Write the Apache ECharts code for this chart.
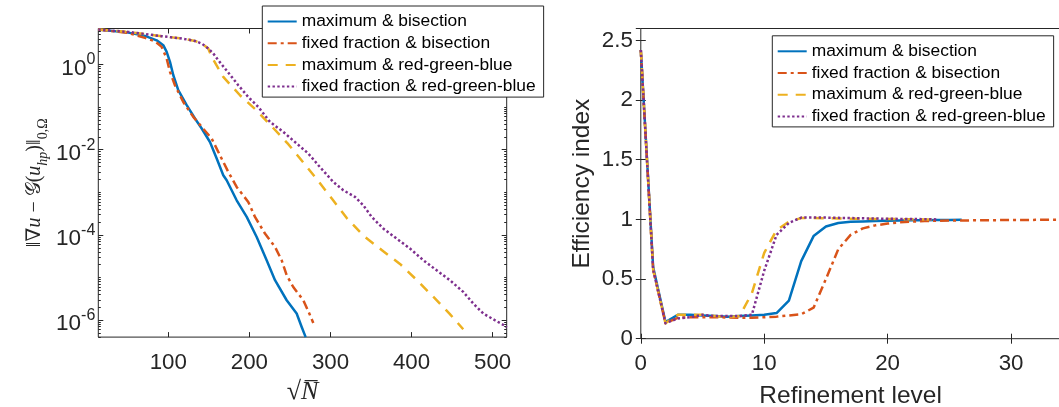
<!DOCTYPE html>
<html>
<head>
<meta charset="utf-8">
<script src="https://cdn.jsdelivr.net/npm/echarts@6/dist/echarts.min.js"></script>
<style>
html,body{margin:0;padding:0;background:#ffffff;}
#chart{width:1059px;height:407px;}
</style>
</head>
<body>
<div id="chart"></div>
<script>
// ---------- names & colours ----------
const seriesNames = [
  'maximum & bisection',
  'fixed fraction & bisection',
  'maximum & red-green-blue',
  'fixed fraction & red-green-blue'
];
const seriesColors = ['#0072BD', '#D95319', '#EDB120', '#7E2F8E'];

// ---------- left panel: error vs sqrt(N) ----------
const maxBisX = [13.7, 50.7, 71.3, 85.7, 93.8, 98.0, 102.1, 106.2, 112.3, 122.7, 132.9, 141.2, 151.4, 159.7, 167.8, 172.0, 184.3, 196.7, 209.0, 221.3, 231.6, 246.0, 258.3, 264.5, 269.4];
const maxBisY = [6.6, 5.6, 4.7, 3.7, 2.84, 1.98, 1.15, 0.56, 0.249, 0.111, 0.054, 0.0315, 0.0152, 0.0062, 0.00252, 0.00192, 6.5e-4, 2.65e-4, 8.97e-5, 2.55e-5, 8.65e-6, 2.93e-6, 1.43e-6, 6.9e-7, 4.0e-7];

const fixBisX = [13.7, 50.7, 71.3, 83.6, 91.9, 98.0, 102.1, 108.2, 118.5, 130.8, 141.2, 153.5, 163.7, 174.0, 184.3, 198.6, 206.9, 219.2, 231.6, 239.8, 246.0, 254.1, 266.5, 273.9, 278.8];
const fixBisY = [6.6, 5.5, 4.21, 3.52, 2.59, 1.38, 0.67, 0.327, 0.132, 0.0589, 0.0343, 0.0183, 0.00743, 0.00301, 0.00134, 5.96e-4, 2.65e-4, 1.08e-4, 5.23e-5, 2.55e-5, 1.13e-5, 6.0e-6, 2.93e-6, 1.43e-6, 8.6e-7];

const maxRgbX = [13.7, 50.7, 91.9, 116.5, 132.9, 141.2, 149.3, 153.5, 167.8, 188.4, 209.0, 230.0, 248.0, 266.5, 285.5, 303.5, 320.3, 340.9, 363.5, 385.7, 406.7, 427.3, 447.0, 463.7];
const maxRgbY = [6.6, 5.82, 4.62, 4.08, 3.58, 3.11, 2.37, 1.51, 0.511, 0.19, 0.0832, 0.0315, 0.01346, 0.00501, 0.00179, 6.42e-4, 2.46e-4, 9.5e-5, 4.37e-5, 2.09e-5, 8.65e-6, 3.45e-6, 1.40e-6, 6.1e-7];

const fixRgbX = [13.7, 50.7, 91.9, 116.5, 132.9, 141.5, 149.3, 155.5, 161.7, 169.9, 178.2, 186.3, 198.6, 211.0, 225.4, 241.8, 258.3, 272.6, 285.0, 303.5, 315.8, 330.2, 340.4, 350.8, 365.1, 381.6, 398.0, 414.4, 430.9, 447.3, 463.7, 476.1, 488.4, 502.8, 513.9, 517.3];
const fixRgbY = [6.6, 5.82, 4.62, 4.08, 3.58, 3.08, 2.37, 1.81, 1.26, 0.805, 0.512, 0.327, 0.173, 0.101, 0.045, 0.0262, 0.0140, 0.00815, 0.00433, 0.00175, 0.00112, 7.8e-4, 4.98e-4, 2.65e-4, 1.41e-4, 8.2e-5, 4.8e-5, 2.55e-5, 1.48e-5, 8.65e-6, 4.6e-6, 2.45e-6, 1.43e-6, 9.95e-7, 7.6e-7, 6.8e-7];

const leftXTicks = [100, 200, 300, 400, 500];
const leftYTicks = [1e-6, 1e-4, 1e-2, 1];
const leftYMinorTicks = [];
for (let k = -7; k <= 0; k++) {
  for (let m = 1; m <= 9; m++) {
    if (m === 1 && k % 2 === 0) continue;
    leftYMinorTicks.push(m * Math.pow(10, k));
  }
}

// ---------- right panel: efficiency index vs refinement level ----------
const effMaxBis = [2.42, 0.60, 0.14, 0.20, 0.20, 0.195, 0.19, 0.185, 0.19, 0.195, 0.20, 0.215, 0.32, 0.65, 0.86, 0.94, 0.97, 0.98, 0.983, 0.986, 0.988, 0.99, 0.992, 0.993, 0.994, 0.995, 0.996];
const effFixBis = [2.42, 0.58, 0.13, 0.175, 0.18, 0.18, 0.18, 0.178, 0.176, 0.176, 0.18, 0.185, 0.195, 0.205, 0.26, 0.50, 0.75, 0.87, 0.925, 0.95, 0.965, 0.975, 0.982, 0.986, 0.989, 0.99, 0.991, 0.992, 0.993, 0.994, 0.995, 0.995, 0.996, 0.996, 0.997];
const effMaxRgb = [2.42, 0.58, 0.13, 0.20, 0.20, 0.20, 0.19, 0.18, 0.19, 0.38, 0.72, 0.91, 0.98, 1.012, 1.012, 1.01, 1.008, 1.006, 1.005, 1.004, 1.003, 1.002, 1.001, 1.0, 1.0];
const effFixRgb = [2.42, 0.58, 0.13, 0.17, 0.18, 0.20, 0.19, 0.19, 0.19, 0.20, 0.57, 0.87, 0.97, 1.015, 1.016, 1.015, 1.013, 1.011, 1.009, 1.007, 1.005, 1.004, 1.003, 1.002, 1.0];

// ---------- styling ----------
const axisColor = '#262626';
const sansFont = '"Liberation Sans", Arial, sans-serif';
const mathFont = '"Liberation Serif", "DejaVu Serif", serif';
const lineTypes = ['solid', [9, 4, 3, 4], [10, 8], [2.4, 2.4]];
const lineWidth = 2.5;

function zip(xs, ys) { return xs.map((x, i) => [x, ys[i]]); }
function byLevel(ys) { return ys.map((y, i) => [i, y]); }

const leftData = [zip(maxBisX, maxBisY), zip(fixBisX, fixBisY), zip(maxRgbX, maxRgbY), zip(fixRgbX, fixRgbY)];
const rightData = [byLevel(effMaxBis), byLevel(effFixBis), byLevel(effMaxRgb), byLevel(effFixRgb)];

function lineSeries(i, data, xi, yi, z) {
  return {
    name: seriesNames[i], type: 'line', data: data,
    xAxisIndex: xi, yAxisIndex: yi,
    symbol: 'none', smooth: false, z: z,
    lineStyle: { color: seriesColors[i], width: lineWidth, type: lineTypes[i], cap: 'butt', join: 'round' },
    itemStyle: { color: seriesColors[i] },
    emphasis: { disabled: true }, animation: false
  };
}

const series = [];
for (let i = 0; i < 4; i++) series.push(lineSeries(i, leftData[i], 0, 0, 2 + i));
for (let i = 0; i < 4; i++) series.push(lineSeries(i, rightData[i], 2, 4, 2 + i));

const tickBase = { show: true, inside: true, length: 5, lineStyle: { color: axisColor, width: 1 } };
const noLine = { show: false };

function legendAt(left, top) {
  return {
    orient: 'vertical', left: left, top: top,
    data: seriesNames,
    itemWidth: 29, itemHeight: 14, itemGap: 1.7,
    padding: [5.5, 8, 0.5, 4.4],
    itemStyle: { opacity: 0, borderWidth: 0 },
    backgroundColor: '#ffffff', borderColor: axisColor, borderWidth: 1, borderRadius: 0,
    textStyle: { fontFamily: sansFont, fontSize: 17.4, color: '#000000', lineHeight: 20 },
    selectedMode: false
  };
}

const option = {
  backgroundColor: '#ffffff',
  animation: false,
  grid: [
    { left: 98.3, top: 28.5, width: 408.4, height: 308.6, show: true, borderColor: axisColor, borderWidth: 1, backgroundColor: 'transparent', containLabel: false, outerBoundsMode: 'none' },
    { left: 640.8, top: 28.5, width: 419.6, height: 310.2, show: true, borderColor: axisColor, borderWidth: 1, backgroundColor: 'transparent', containLabel: false, outerBoundsMode: 'none' }
  ],
  legend: [legendAt(262.3, 6), legendAt(772.3, 35.8)],
  xAxis: [
    { gridIndex: 0, type: 'value', position: 'bottom', min: 13.7, max: 517.3,
      axisLine: noLine, splitLine: { show: false },
      axisTick: Object.assign({}, tickBase, { customValues: leftXTicks }),
      axisLabel: { customValues: leftXTicks, fontFamily: sansFont, fontSize: 22.3, color: axisColor, margin: 15 },
      name: '{r|√}{n|N̅}', nameLocation: 'middle', nameGap: 42,
      nameTextStyle: { rich: {
        r: { fontFamily: mathFont, fontSize: 26, color: axisColor },
        n: { fontFamily: mathFont, fontStyle: 'italic', fontSize: 26, color: axisColor }
      } } },
    { gridIndex: 0, type: 'value', position: 'top', min: 13.7, max: 517.3,
      axisLine: noLine, splitLine: { show: false },
      axisTick: Object.assign({}, tickBase, { customValues: leftXTicks }),
      axisLabel: { show: false } },
    { gridIndex: 1, type: 'value', position: 'bottom', min: 0, max: 34, interval: 10,
      axisLine: noLine, splitLine: { show: false },
      axisTick: tickBase,
      axisLabel: { fontFamily: sansFont, fontSize: 22.3, color: axisColor, margin: 14, showMaxLabel: false },
      name: 'Refinement level', nameLocation: 'middle', nameGap: 45,
      nameTextStyle: { fontFamily: sansFont, fontSize: 24.5, color: axisColor } },
    { gridIndex: 1, type: 'value', position: 'top', min: 0, max: 34, interval: 10,
      axisLine: noLine, splitLine: { show: false },
      axisTick: tickBase, axisLabel: { show: false } }
  ],
  yAxis: [
    { gridIndex: 0, type: 'log', logBase: 10, position: 'left', min: 4.0e-7, max: 7,
      axisLine: noLine, splitLine: { show: false }, minorTick: { show: false },
      axisTick: Object.assign({}, tickBase, { customValues: leftYTicks }),
      axisLabel: {
        customValues: leftYTicks, margin: 3, color: axisColor,
        formatter: function (v) { return '{b|10}{s|' + Math.round(Math.log10(v)) + '}'; },
        rich: {
          b: { fontFamily: sansFont, fontSize: 22.5, lineHeight: 22, padding: [8, 0, 0, 0], color: axisColor },
          s: { fontFamily: sansFont, fontSize: 16, lineHeight: 21, padding: [0, 0, 9, 0], color: axisColor }
        }
      },
      name: '{n|‖∇}{i|u}{n| − 𝒢(}{i|u}{si|hp}{n|)‖}{s|0,Ω}',
      nameLocation: 'middle', nameGap: 50,
      nameTextStyle: { rich: {
        n: { fontFamily: mathFont, fontSize: 20, lineHeight: 20, padding: [0, 0, 7, 0], color: axisColor },
        i: { fontFamily: mathFont, fontStyle: 'italic', fontSize: 20, lineHeight: 20, padding: [0, 0, 7, 0], color: axisColor },
        si: { fontFamily: mathFont, fontStyle: 'italic', fontSize: 14, lineHeight: 14, padding: [10, 0, 0, 0], color: axisColor },
        s: { fontFamily: mathFont, fontSize: 14, lineHeight: 14, padding: [10, 0, 0, 0], color: axisColor }
      } } },
    { gridIndex: 0, type: 'log', logBase: 10, position: 'left', min: 4.0e-7, max: 7,
      axisLine: noLine, splitLine: { show: false },
      axisTick: Object.assign({}, tickBase, { length: 2.5, customValues: leftYMinorTicks }),
      axisLabel: { show: false } },
    { gridIndex: 0, type: 'log', logBase: 10, position: 'right', min: 4.0e-7, max: 7,
      axisLine: noLine, splitLine: { show: false },
      axisTick: Object.assign({}, tickBase, { customValues: leftYTicks }),
      axisLabel: { show: false } },
    { gridIndex: 0, type: 'log', logBase: 10, position: 'right', min: 4.0e-7, max: 7,
      axisLine: noLine, splitLine: { show: false },
      axisTick: Object.assign({}, tickBase, { length: 2.5, customValues: leftYMinorTicks }),
      axisLabel: { show: false } },
    { gridIndex: 1, type: 'value', position: 'left', min: 0, max: 2.6, interval: 0.5,
      axisLine: noLine, splitLine: { show: false },
      axisTick: tickBase,
      axisLabel: { fontFamily: sansFont, fontSize: 22.3, color: axisColor, margin: 8, showMaxLabel: false },
      name: 'Efficiency index', nameLocation: 'middle', nameGap: 46,
      nameTextStyle: { fontFamily: sansFont, fontSize: 24.5, color: axisColor } },
    { gridIndex: 1, type: 'value', position: 'right', min: 0, max: 2.6, interval: 0.5,
      axisLine: noLine, splitLine: { show: false },
      axisTick: tickBase, axisLabel: { show: false } }
  ],
  series: series
};

const chart = echarts.init(document.getElementById('chart'), null, { renderer: 'canvas' });
chart.setOption(option);
</script>
</body>
</html>
